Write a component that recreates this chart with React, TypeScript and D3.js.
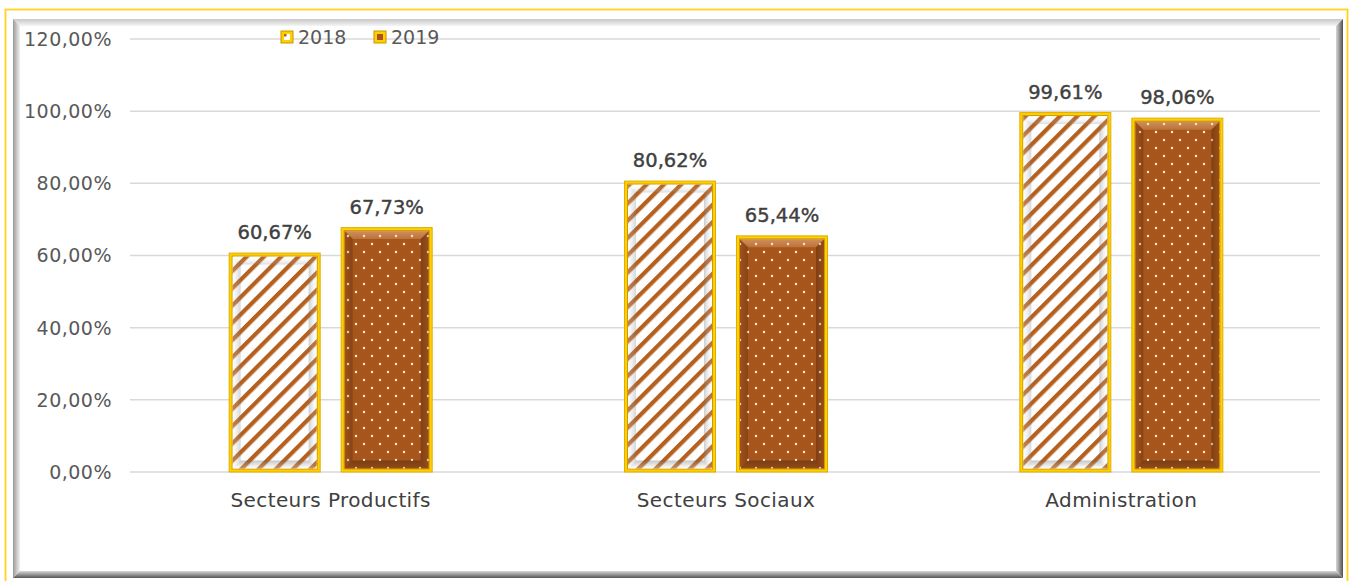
import React from "react";
import * as d3 from "d3";

const categories = ["Secteurs Productifs", "Secteurs Sociaux", "Administration"];
const seriesNames = ["2018", "2019"];
const values2018 = [60.67, 80.62, 99.61];
const values2019 = [67.73, 65.44, 98.06];
const yTickValues = [0, 20, 40, 60, 80, 100, 120];

const W = 1355;
const H = 581;
const FONT = "'DejaVu Sans', sans-serif";
const BROWN = "#A7551A";
const STRIPE = "#B5601E";
const GOLD = "#FFCF00";

const fmt = (v: number) => d3.format(".2f")(v).replace(".", ",") + "%";

type BarProps = { x: number; yTop: number; w: number; yBase: number; kind: string };

function Bar({ x, yTop, w, yBase, kind }: BarProps) {
  const b = 3.5;
  const bv = 8;
  const h = yBase - yTop;
  const ix = x + b;
  const iy = yTop + b;
  const iw = w - 2 * b;
  const ih = h - 2 * b;
  const pts = (a: number[][]) => a.map((p) => p.join(",")).join(" ");
  const top = [[ix, iy], [ix + iw, iy], [ix + iw - bv, iy + bv], [ix + bv, iy + bv]];
  const bottom = [[ix, iy + ih], [ix + iw, iy + ih], [ix + iw - bv, iy + ih - bv], [ix + bv, iy + ih - bv]];
  const left = [[ix, iy], [ix + bv, iy + bv], [ix + bv, iy + ih - bv], [ix, iy + ih]];
  const right = [[ix + iw, iy], [ix + iw - bv, iy + bv], [ix + iw - bv, iy + ih - bv], [ix + iw, iy + ih]];
  const is18 = kind === "2018";
  return (
    <g>
      <rect x={x} y={yTop} width={w} height={h} fill={GOLD} stroke="#E0AE00" strokeWidth={1} />
      <rect x={ix - 0.5} y={iy - 0.5} width={iw + 1} height={ih + 1} fill="none" stroke="#C99A10" strokeWidth={1} />
      <rect x={ix} y={iy} width={iw} height={ih} fill={is18 ? "#ffffff" : BROWN} />
      <rect x={ix} y={iy} width={iw} height={ih} fill={is18 ? "url(#stripes)" : "url(#dots)"} />
      <polygon points={pts(top)} fill={`url(#top${kind})`} />
      <polygon points={pts(bottom)} fill={`url(#bot${kind})`} />
      <polygon points={pts(left)} fill={`url(#left${kind})`} />
      <polygon points={pts(right)} fill={`url(#right${kind})`} />
    </g>
  );
}

export default function App() {
  const x0 = d3.scaleBand<string>().domain(categories).range([133, 1319]);
  const x1 = d3.scaleBand<string>().domain(seriesNames).range([-101.5, 101.5]).paddingInner(0.1875);
  const y = d3.scaleLinear().domain([0, 120]).range([472, 39]);
  const seriesValues: Record<string, number[]> = { "2018": values2018, "2019": values2019 };

  const lg = (id: string, x2: number, y2: number, c1: string, c2: string) => (
    <linearGradient id={id} x1={0} y1={0} x2={x2} y2={y2}>
      <stop offset="0" stopColor={c1} />
      <stop offset="1" stopColor={c2} />
    </linearGradient>
  );

  return (
    <svg width={W} height={H} style={{ position: "absolute", left: 0, top: 0 }} xmlns="http://www.w3.org/2000/svg">
      <defs>
        <pattern id="stripes" patternUnits="userSpaceOnUse" width={12.2} height={12.2} patternTransform="rotate(45)">
          <rect x={0} y={0} width={4.2} height={12.2} fill={STRIPE} />
        </pattern>
        <pattern id="dots" patternUnits="userSpaceOnUse" width={16} height={16}>
          <circle cx={4} cy={4} r={1.2} fill="#ffffff" fillOpacity={0.9} />
          <circle cx={12} cy={12} r={1.2} fill="#ffffff" fillOpacity={0.9} />
        </pattern>
        {lg("top2018", 0, 1, "rgba(255,255,255,0)", "rgba(140,140,140,0.3)")}
        {lg("bot2018", 0, 1, "rgba(90,90,90,0.35)", "rgba(255,255,255,0.3)")}
        {lg("left2018", 1, 0, "rgba(255,255,255,0.2)", "rgba(120,120,120,0.3)")}
        {lg("right2018", 1, 0, "rgba(110,110,110,0.35)", "rgba(255,255,255,0.1)")}
        {lg("top2019", 0, 1, "rgba(255,215,170,0.45)", "rgba(255,200,150,0.25)")}
        {lg("bot2019", 0, 1, "rgba(40,15,0,0.35)", "rgba(40,15,0,0.15)")}
        {lg("left2019", 1, 0, "rgba(40,15,0,0.05)", "rgba(40,15,0,0.25)")}
        {lg("right2019", 1, 0, "rgba(40,15,0,0.3)", "rgba(40,15,0,0.1)")}
        {lg("frameL", 1, 0, "#9a9a9a", "#f2f2f2")}
        {lg("frameT", 0, 1, "#c8c8c8", "#f5f5f5")}
        {lg("frameR", 1, 0, "#d8d8d8", "#505050")}
        {lg("frameB", 0, 1, "#d8d8d8", "#555555")}
      </defs>

      <rect x={0} y={0} width={W} height={H} fill="#ffffff" />
      {/* outer yellow border */}
      <rect x={5.5} y={9.5} width={1342} height={600} fill="none" stroke="#FFD21F" strokeWidth={1.8} />
      {/* inner beveled frame */}
      {(() => {
        const X0 = 13, Y0 = 19, X1 = 1343, Y1 = 578, bw = 7;
        const p = (a: number[][]) => a.map((q) => q.join(",")).join(" ");
        return (
          <g>
            <polygon points={p([[X0, Y0], [X1, Y0], [X1 - bw, Y0 + bw], [X0 + bw, Y0 + bw]])} fill="url(#frameT)" />
            <polygon points={p([[X0, Y0], [X0 + bw, Y0 + bw], [X0 + bw, Y1 - bw], [X0, Y1]])} fill="url(#frameL)" />
            <polygon points={p([[X1, Y0], [X1 - bw, Y0 + bw], [X1 - bw, Y1 - bw], [X1, Y1]])} fill="url(#frameR)" />
            <polygon points={p([[X0, Y1], [X1, Y1], [X1 - bw, Y1 - bw], [X0 + bw, Y1 - bw]])} fill="url(#frameB)" />
          </g>
        );
      })()}

      {/* gridlines */}
      {yTickValues.map((t) => (
        <line key={t} x1={130} x2={1320} y1={y(t)} y2={y(t)} stroke="#d9d9d9" strokeWidth={1.5} />
      ))}
      {/* y tick labels */}
      {yTickValues.map((t) => (
        <text key={t} x={112} y={y(t)} dy="0.36em" textAnchor="end" fontFamily={FONT} fontSize={19}
          letterSpacing={0.5} fill="#595959">{fmt(t)}</text>
      ))}

      {/* bars */}
      {categories.map((c, i) => {
        const cx = (x0(c) as number) + x0.bandwidth() / 2;
        return (
          <g key={c}>
            {seriesNames.map((s) => {
              const v = seriesValues[s][i];
              const bx = cx + (x1(s) as number);
              return (
                <g key={s}>
                  <Bar x={bx} yTop={y(v)} w={x1.bandwidth()} yBase={y(0)} kind={s} />
                  <text x={bx + x1.bandwidth() / 2} y={y(v) - 14} textAnchor="middle" fontFamily={FONT}
                    fontSize={19.5} fill="#404040" stroke="#404040" strokeWidth={0.4}>{fmt(v)}</text>
                </g>
              );
            })}
            <text x={cx} y={500} dy="0.36em" textAnchor="middle" fontFamily={FONT} fontSize={20}
              letterSpacing={0.4} fill="#404040">{c}</text>
          </g>
        );
      })}

      {/* legend */}
      {seriesNames.map((s, i) => {
        const lx = 281 + i * 93;
        const ly = 31;
        return (
          <g key={s}>
            <rect x={lx} y={ly} width={12} height={12} fill={GOLD} stroke="#C89600" strokeWidth={1} />
            <rect x={lx + 3} y={ly + 3} width={6} height={6} fill={i === 0 ? "#ffffff" : BROWN} />
            {i === 0 && <rect x={lx + 3} y={ly + 3} width={2.5} height={2.5} fill={STRIPE} />}
            <text x={lx + 17} y={ly + 6} dy="0.36em" fontFamily={FONT} fontSize={19} fill="#595959">{s}</text>
          </g>
        );
      })}
    </svg>
  );
}
